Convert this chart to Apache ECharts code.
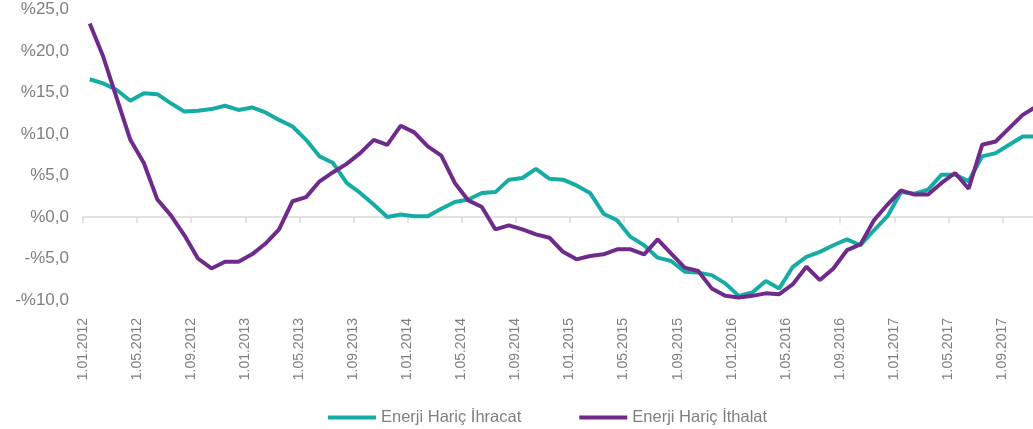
<!DOCTYPE html>
<html>
<head>
<meta charset="utf-8">
<title>Enerji Hariç İhracat / İthalat</title>
<script src="https://cdn.jsdelivr.net/npm/echarts@6/dist/echarts.min.js"></script>
<style>
html, body { margin: 0; padding: 0; background: #fff; }
#main { width: 1033px; height: 429px; }
</style>
</head>
<body>
<div id="main"></div>
<script>
// aylar: 1.01.2012 - 1.11.2017
var months = [];
for (var y = 2012; y <= 2017; y++) {
  for (var m = 1; m <= 12; m++) {
    if (y === 2017 && m > 11) break;
    months.push('1.' + (m < 10 ? '0' + m : m) + '.' + y);
  }
}

var seriesNames = ['Enerji Hariç İhracat', 'Enerji Hariç İthalat'];

var ihracat = [
  16.6, 16.1, 15.3, 14.0, 14.9, 14.8, 13.7, 12.7, 12.8, 13.0, 13.4, 12.9,
  13.2, 12.6, 11.7, 10.9, 9.3, 7.3, 6.5, 4.1, 2.9, 1.5, 0.0, 0.3,
  0.1, 0.1, 1.0, 1.8, 2.1, 2.9, 3.0, 4.5, 4.7, 5.8, 4.6, 4.5,
  3.8, 2.9, 0.4, -0.4, -2.4, -3.4, -4.9, -5.3, -6.6, -6.7, -7.0, -8.0,
  -9.5, -9.1, -7.7, -8.6, -6.0, -4.8, -4.2, -3.4, -2.7, -3.4, -1.6, 0.1,
  3.0, 2.8, 3.3, 5.1, 5.1, 4.3, 7.3, 7.7, 8.7, 9.7, 9.7
];

var ithalat = [
  23.3, 19.3, 14.3, 9.3, 6.5, 2.1, 0.2, -2.2, -5.0, -6.2, -5.4, -5.4,
  -4.5, -3.2, -1.5, 1.9, 2.4, 4.3, 5.4, 6.4, 7.7, 9.3, 8.7, 11.0,
  10.2, 8.5, 7.4, 4.1, 2.0, 1.2, -1.5, -1.0, -1.5, -2.1, -2.5, -4.2,
  -5.1, -4.7, -4.5, -3.9, -3.9, -4.5, -2.7, -4.4, -6.1, -6.5, -8.6, -9.5,
  -9.7, -9.5, -9.2, -9.3, -8.1, -6.0, -7.6, -6.2, -4.0, -3.3, -0.4, 1.5,
  3.2, 2.7, 2.7, 4.1, 5.3, 3.4, 8.7, 9.1, 10.7, 12.3, 13.3
];

var colors = ['#17aca3', '#6e2b8b'];
var labelColor = '#7f7f7f';

var chart = echarts.init(document.getElementById('main'));

var option = {
  animation: false,
  color: colors,
  // grafik sağdan taşıyor, son ay kesik görünüyor
  grid: { left: 83, width: 960, top: 9.5, height: 290.5, outerBoundsMode: 'none' },
  legend: {
    left: 323,
    top: 404,
    itemWidth: 48,
    itemHeight: 4,
    itemGap: 58,
    icon: 'rect',
    data: seriesNames,
    textStyle: { color: labelColor, fontSize: 16.5, fontFamily: 'Liberation Sans' }
  },
  xAxis: [{
    type: 'category',
    data: months,
    boundaryGap: true,
    axisLine: { onZero: true, lineStyle: { color: '#d9d9d9', width: 1.5 } },
    axisTick: { show: true, interval: 3, length: 6, lineStyle: { color: '#d9d9d9', width: 1.5 } },
    axisLabel: { show: false },
    splitLine: { show: false }
  }, {
    type: 'category',
    data: months,
    boundaryGap: true,
    position: 'bottom',
    axisLine: { show: false, onZero: false },
    axisTick: { show: false },
    axisLabel: {
      interval: 3,
      rotate: 90,
      margin: 18,
      verticalAlign: 'bottom',
      color: labelColor,
      fontSize: 14,
      fontFamily: 'Liberation Sans Narrow, Liberation Sans'
    },
    splitLine: { show: false }
  }],
  yAxis: {
    type: 'value',
    min: -10,
    max: 25,
    interval: 5,
    axisLine: { show: false },
    axisTick: { show: false },
    splitLine: { show: false },
    axisLabel: {
      margin: 14,
      color: labelColor,
      fontSize: 17,
      fontFamily: 'Liberation Sans',
      formatter: function (v) {
        return (v < 0 ? '-%' : '%') + Math.abs(v) + ',0';
      }
    }
  },
  series: [{
    name: seriesNames[0],
    type: 'line',
    xAxisIndex: 0,
    data: ihracat,
    symbol: 'none',
    lineStyle: { width: 4, color: colors[0] },
    z: 2
  }, {
    name: seriesNames[1],
    type: 'line',
    xAxisIndex: 0,
    data: ithalat,
    symbol: 'none',
    lineStyle: { width: 4, color: colors[1] },
    z: 3
  }]
};

chart.setOption(option);
</script>
</body>
</html>
